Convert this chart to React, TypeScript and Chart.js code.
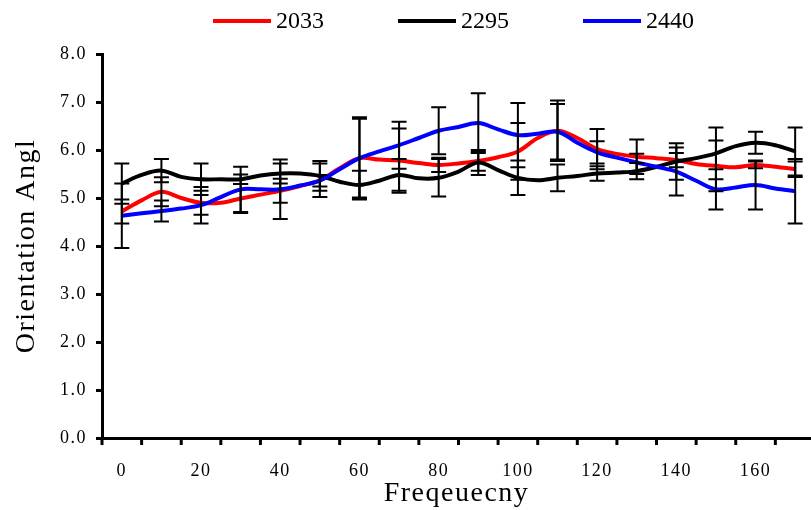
import React, { useEffect, useRef } from 'react';
import { Chart, registerables } from 'chart.js';

Chart.register(...registerables);

const FONT = '"Liberation Serif", "Times New Roman", serif';

// x positions of the plotted points
const frequencies = [0, 5, 10, 15, 20, 25, 30, 35, 40, 45, 50, 55, 60, 65, 70, 75, 80, 85, 90, 95, 100, 105, 110, 115, 120, 125, 130, 135, 140, 145, 150, 155, 160, 165, 170];

const seriesLabels = ['2033', '2295', '2440'];
const seriesColors = ['#FF0000', '#000000', '#0000FF'];

const values2033 = [4.72, 4.95, 5.13, 5.0, 4.9, 4.9, 4.99, 5.07, 5.15, 5.25, 5.37, 5.62, 5.83, 5.8, 5.78, 5.73, 5.69, 5.72, 5.77, 5.85, 5.97, 6.25, 6.4, 6.25, 6.02, 5.92, 5.86, 5.83, 5.79, 5.71, 5.67, 5.64, 5.69, 5.65, 5.6];
const values2295 = [5.3, 5.48, 5.57, 5.44, 5.39, 5.39, 5.39, 5.47, 5.51, 5.51, 5.46, 5.34, 5.27, 5.36, 5.48, 5.41, 5.42, 5.55, 5.74, 5.58, 5.42, 5.37, 5.42, 5.46, 5.51, 5.53, 5.56, 5.65, 5.76, 5.83, 5.93, 6.08, 6.15, 6.1, 5.97];
const values2440 = [4.63, 4.68, 4.73, 4.78, 4.85, 5.02, 5.18, 5.18, 5.18, 5.26, 5.36, 5.6, 5.83, 5.97, 6.1, 6.25, 6.4, 6.48, 6.56, 6.43, 6.31, 6.34, 6.38, 6.15, 5.95, 5.84, 5.74, 5.65, 5.55, 5.36, 5.18, 5.22, 5.27, 5.2, 5.14];

// error bars (± values) at these frequencies
const errorFrequencies = [0, 10, 20, 30, 40, 50, 60, 70, 80, 90, 100, 110, 120, 130, 140, 150, 160, 170];
const errors2033 = [0.25, 0.3, 0.25, 0.3, 0.25, 0.35, 0.82, 0.67, 0.15, 0.2, 0.59, 0.63, 0.42, 0.36, 0.15, 0.53, 0.07, 0.16];
const errors2295 = [0.42, 0.24, 0.33, 0.1, 0.21, 0.31, 0.3, 0.33, 0.39, 0.26, 0.36, 0.28, 0.15, 0.17, 0.38, 0.54, 0.23, 0.5];
const errors2440 = [0.67, 0.22, 0.38, 0.47, 0.62, 0.12, 0.85, 0.49, 0.49, 0.62, 0.67, 0.58, 0.23, 0.18, 0.5, 0.42, 0.51, 0.67];

const xLabelValues = [0, 20, 40, 60, 80, 100, 120, 140, 160];
const xTickMarkValues = [-5, 5, 15, 25, 35, 45, 55, 65, 75, 85, 95, 105, 115, 125, 135, 145, 155, 165];

const seriesValues = [values2033, values2295, values2440];
const seriesErrors = [errors2033, errors2295, errors2440];

const errorBarPlugin = {
  id: 'errorBars',
  afterDatasetsDraw(chart: any) {
    const ctx = chart.ctx;
    const yScale = chart.scales.y;
    ctx.save();
    ctx.strokeStyle = '#000000';
    ctx.lineWidth = 2;
    const cap = 7.5;
    chart.data.datasets.forEach((ds: any, di: number) => {
      const meta = chart.getDatasetMeta(di);
      const errs = seriesErrors[di];
      ds.data.forEach((pt: any, i: number) => {
        const k = errorFrequencies.indexOf(pt.x);
        if (k < 0) return;
        const e = errs[k];
        const px = meta.data[i].x;
        const top = yScale.getPixelForValue(pt.y + e);
        const bot = yScale.getPixelForValue(pt.y - e);
        ctx.beginPath();
        ctx.moveTo(px, top);
        ctx.lineTo(px, bot);
        ctx.moveTo(px - cap, top);
        ctx.lineTo(px + cap, top);
        ctx.moveTo(px - cap, bot);
        ctx.lineTo(px + cap, bot);
        ctx.stroke();
      });
    });
    ctx.restore();
  },
};

// widen axis text slightly (scales are drawn between beforeDraw and beforeDatasetsDraw)
const textSpacingPlugin = {
  id: 'axisTextSpacing',
  beforeDraw(chart: any) {
    (chart.ctx as any).letterSpacing = '1.5px';
  },
  beforeDatasetsDraw(chart: any) {
    (chart.ctx as any).letterSpacing = '0px';
  },
};

const axisTickPlugin = {
  id: 'xTickMarks',
  afterDraw(chart: any) {
    const ctx = chart.ctx;
    const xScale = chart.scales.x;
    const y0 = chart.chartArea.bottom;
    ctx.save();
    ctx.strokeStyle = '#000000';
    ctx.lineWidth = 3;
    xTickMarkValues.forEach((v) => {
      const px = xScale.getPixelForValue(v);
      ctx.beginPath();
      ctx.moveTo(px, y0);
      ctx.lineTo(px, y0 + 7);
      ctx.stroke();
    });
    ctx.restore();
  },
};

const legendPlugin = {
  id: 'lineLegend',
  afterDraw(chart: any) {
    const { ctx, chartArea } = chart;
    ctx.save();
    (ctx as any).letterSpacing = '0px';
    ctx.font = `24px ${FONT}`;
    ctx.textBaseline = 'middle';
    ctx.textAlign = 'left';
    const lineLen = 58;
    const gap = 5;
    const between = 74;
    const y = 21;
    const items = chart.data.datasets.map((ds: any) => ({
      label: ds.label,
      color: ds.borderColor,
      w: ctx.measureText(ds.label).width,
    }));
    const total = items.reduce((s: number, it: any) => s + lineLen + gap + it.w, 0) + between * (items.length - 1);
    let x = (chartArea.left + chartArea.right) / 2 - total / 2 - 3;
    items.forEach((it: any) => {
      ctx.strokeStyle = it.color;
      ctx.lineWidth = 4;
      ctx.beginPath();
      ctx.moveTo(x, y);
      ctx.lineTo(x + lineLen, y);
      ctx.stroke();
      ctx.fillStyle = '#000000';
      ctx.fillText(it.label, x + lineLen + gap, y + 1);
      x += lineLen + gap + it.w + between;
    });
    ctx.restore();
  },
};

export default function App() {
  const canvasRef = useRef<HTMLCanvasElement | null>(null);

  useEffect(() => {
    if (!canvasRef.current) return;
    const datasets = seriesLabels.map((label, si) => ({
      label,
      data: frequencies.map((f, i) => ({ x: f, y: seriesValues[si][i] })),
      borderColor: seriesColors[si],
      backgroundColor: seriesColors[si],
      borderWidth: 4,
      pointRadius: 0,
      tension: 0.35,
      fill: false,
      order: 2 - si,
    }));

    const chart = new Chart(canvasRef.current, {
      type: 'line',
      data: { datasets },
      plugins: [textSpacingPlugin, errorBarPlugin, axisTickPlugin, legendPlugin],
      options: {
        responsive: false,
        animation: false,
        layout: { padding: { top: 54, left: 0, right: 0, bottom: 0 } },
        plugins: {
          legend: { display: false },
          tooltip: { enabled: false },
        },
        scales: {
          x: {
            type: 'linear',
            min: -5,
            max: 174,
            afterBuildTicks: (s: any) => {
              s.ticks = xLabelValues.map((v) => ({ value: v }));
            },
            afterFit: (s: any) => {
              s.height = 72;
            },
            grid: { display: false, drawTicks: false },
            border: { display: true, color: '#000000', width: 3 },
            ticks: {
              color: '#000000',
              font: { family: FONT, size: 18 },
              padding: 22,
              maxRotation: 0,
              autoSkip: false,
              callback: (v: any) => String(v),
            },
            title: {
              display: true,
              text: 'Freqeuecny',
              color: '#000000',
              font: { family: FONT, size: 28 },
              padding: { top: 0, bottom: 0 },
            },
          },
          y: {
            min: 0,
            max: 8,
            afterFit: (s: any) => {
              s.width = 102;
            },
            ticks: {
              stepSize: 1,
              color: '#000000',
              font: { family: FONT, size: 18 },
              padding: 9,
              callback: (v: any) => Number(v).toFixed(1),
            },
            grid: {
              drawOnChartArea: false,
              drawTicks: true,
              tickLength: 6,
              color: '#000000',
              lineWidth: 3,
            },
            border: { display: true, color: '#000000', width: 3 },
            title: {
              display: true,
              text: 'Orientation Angl',
              color: '#000000',
              font: { family: FONT, size: 28 },
              padding: { top: 10, bottom: 0 },
            },
          },
        },
      } as any,
    });
    return () => chart.destroy();
  }, []);

  return (
    <div style={{ position: 'absolute', left: 0, top: 0, width: 811, height: 510, background: '#ffffff' }}>
      <canvas ref={canvasRef} width={811} height={510} style={{ display: 'block' }} />
    </div>
  );
}
